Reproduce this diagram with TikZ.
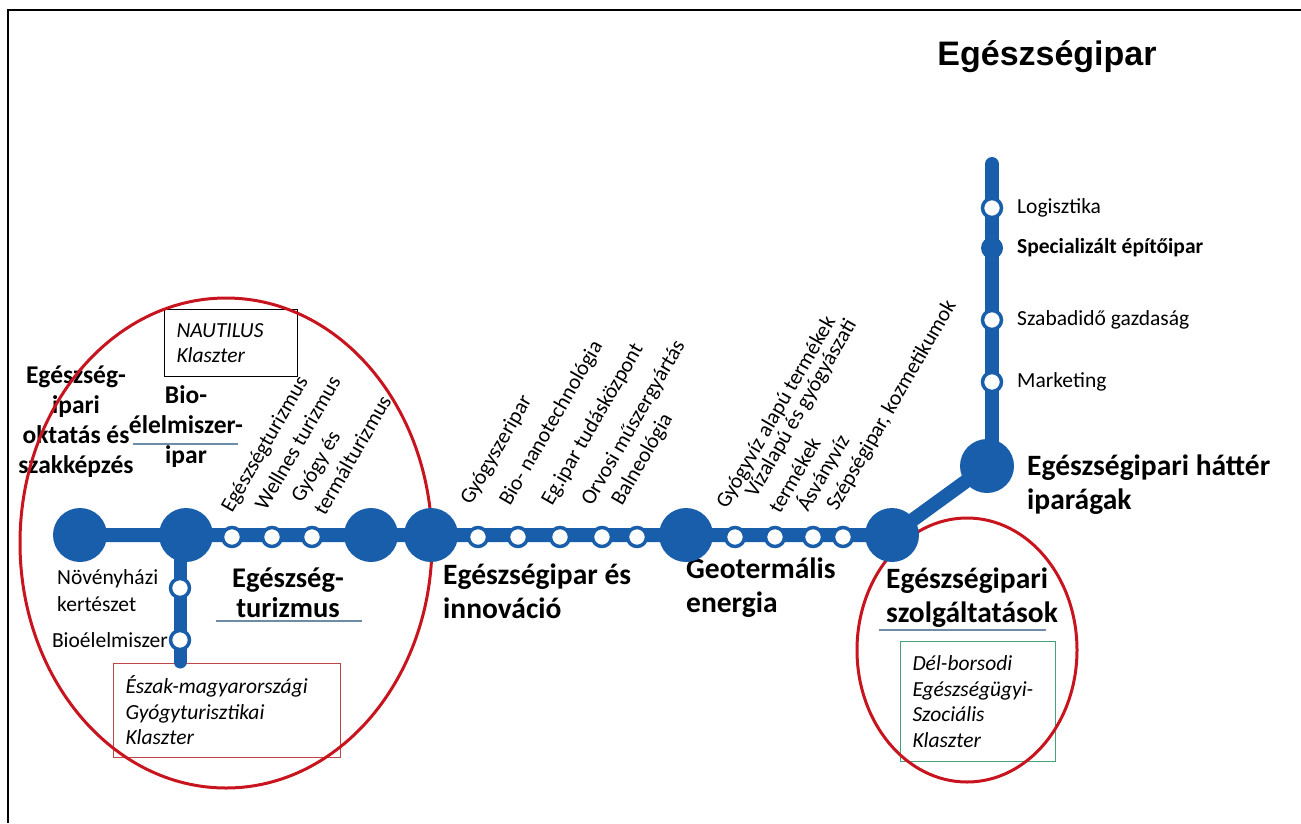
\documentclass[tikz,border=0pt]{standalone}
\usepackage{fontspec}
\setmainfont{Carlito}
\newfontfamily\titlefont{Liberation Sans}
\usetikzlibrary{shapes.geometric,backgrounds}
\pgfdeclarelayer{tracks}
\pgfdeclarelayer{stations}
\pgfsetlayers{background,main,tracks,stations}
\definecolor{metro}{RGB}{24,94,170}
\definecolor{ringred}{RGB}{200,20,30}
\definecolor{ulinec}{RGB}{110,140,170}
\definecolor{boxred}{RGB}{190,70,70}
\definecolor{boxgreen}{RGB}{70,160,120}
\begin{document}
\begin{tikzpicture}[x=1pt,y=-1pt,
 big/.style={circle,fill=metro,minimum size=54pt,inner sep=0pt},
 small/.style={circle,fill=white,draw=metro,line width=3.5pt,minimum size=19pt,inner sep=0pt},
 smallfill/.style={circle,fill=metro,minimum size=22pt,inner sep=0pt},
 lbl/.style={font=\fontsize{21.5}{26}\selectfont,inner sep=0pt},
 rlbl/.style={lbl,rotate=60,anchor=base west},
 head/.style={font=\bfseries\fontsize{29.5}{34}\selectfont,align=left,inner sep=0pt},
 lhead/.style={font=\bfseries\fontsize{25.5}{30}\selectfont,align=center,inner sep=0pt},
 cluster/.style={draw,anchor=north west,align=left,inner xsep=12pt,inner ysep=0pt,font=\itshape\fontsize{21.5}{25.5}\selectfont,line width=1pt},
 track/.style={draw=metro,line width=14pt},
 ring/.style={ellipse,draw=ringred,line width=3pt,inner sep=0pt},
 uline/.style={draw=ulinec,line width=1.2pt}
]
\useasboundingbox (0,0) rectangle (1301,823);

% title
\node[font=\titlefont\bfseries\fontsize{34}{38}\selectfont,inner sep=0pt] (title) at (1047,57) {Egészségipar};

% stations
\begin{pgfonlayer}{stations}
\node[big] (b1) at (80,535) {};
\node[big] (b2) at (186,535) {};
\node[big] (b3) at (371,535) {};
\node[big] (b4) at (431,535) {};
\node[big] (b5) at (686,535) {};
\node[big] (b6) at (892,535) {};
\node[big] (b7) at (987,466) {};

\node[small] (s1) at (232,537) {};
\node[small] (s2) at (272,537) {};
\node[small] (s3) at (312,537) {};
\node[small] (s4) at (478,537) {};
\node[small] (s5) at (518,537) {};
\node[small] (s6) at (560,537) {};
\node[small] (s7) at (602,537) {};
\node[small] (s8) at (637,537) {};
\node[small] (s9) at (735,537) {};
\node[small] (s10) at (775,537) {};
\node[small] (s11) at (813,537) {};
\node[small] (s12) at (843,537) {};

\node[small] (v1) at (180,588) {};
\node[small] (v2) at (180,640) {};

\node[small] (t1) at (992,208) {};
\node[smallfill] (t2) at (992,248) {};
\node[small] (t3) at (992,320) {};
\node[small] (t4) at (992,382) {};
\end{pgfonlayer}
\coordinate (vtop) at (180,540);
\coordinate (vend) at (180,662);
\coordinate (tjoin) at (992,466);
\coordinate (ttop) at (992,164);

\begin{pgfonlayer}{background}
\fill[white] (0,0) rectangle (1301,823);
\draw[line width=2.2pt] (8,823) -- (8,10) -- (1301,10);
\end{pgfonlayer}

\begin{pgfonlayer}{tracks}
\draw[track] (b1.center) -- (b2.center) -- (b3.center) -- (b4.center) -- (b5.center) -- (b6.center) -- (b7.center);
\draw[track,line cap=round] (tjoin) -- (ttop);
\draw[track,line width=13pt,line cap=round] (vtop) -- (vend);
\end{pgfonlayer}

% rotated labels
\node[rlbl] (r1) at (232,514) {Egészségturizmus};
\node[rlbl] (r2) at (266,512) {Wellnes turizmus};
\node[rlbl] (r3a) at (302,504) {Gyógy és};
\node[rlbl] (r3b) at (325,517) {termálturizmus};
\node[rlbl] (r4) at (471,506) {Gyógyszeripar};
\node[rlbl] (r5) at (510,507) {Bio- nanotechnológia};
\node[rlbl] (r6) at (552,507) {Eg.ipar tudásközpont};
\node[rlbl] (r7) at (592,507) {Orvosi műszergyártás};
\node[rlbl] (r8) at (622,507) {Balneológia};
\node[rlbl] (r9) at (727,510) {Gyógyvíz alapú termékek};
\node[rlbl] (r10a) at (756,499) {Vízalapú és gyógyászati};
\node[rlbl] (r10b) at (780,515) {termékek};
\node[rlbl] (r11) at (808,513) {Ásványvíz};
\node[rlbl] (r12) at (837,512) {Szépségipar, kozmetikumok};

% right side labels
\node[lbl,anchor=west] (l1) at (1017,208) {Logisztika};
\node[lbl,anchor=west,font=\bfseries\fontsize{21.5}{26}\selectfont] (l2) at (1017,248) {Specializált építőipar};
\node[lbl,anchor=west] (l3) at (1017,320) {Szabadidő gazdaság};
\node[lbl,anchor=west] (l4) at (1017,382) {Marketing};

% branch labels
\node[lbl,anchor=west,align=left,font=\fontsize{21.5}{27}\selectfont] (n1) at (57,591) {Növényházi\\kertészet};
\node[lbl,anchor=east] (n2) at (168,640) {Bioélelmiszer};

% headings
\node[lhead] (h1) at (76,422) {Egészség-\\ipari\\oktatás és\\szakképzés};
\node[lhead] (h2) at (186,427) {Bio-\\élelmiszer-\\ipar};
\node[head,align=center,font=\bfseries\fontsize{28.5}{30}\selectfont] (h3) at (288,593) {Egészség-\\turizmus};
\node[head,anchor=west] (h4) at (443,591) {Egészségipar és\\innováció};
\node[head,anchor=west] (h5) at (686,588) {Geotermális\\energia};
\node[head,anchor=west] (h6) at (886,598) {Egészségipari\\szolgáltatások};
\node[head,anchor=west] (h7) at (1027,485) {Egészségipari háttér\\iparágak};

% underlines
\draw[uline] (133,444) -- (238,444);
\draw[uline] (216,621) -- (362,621);
\draw[uline] (879,630) -- (1046,630);

% cluster boxes
\node[cluster,text width=109pt,minimum height=67pt] (c1) at (164,309) {NAUTILUS\\Klaszter};
\node[cluster,draw=boxred,text width=203pt,minimum height=94pt] (c2) at (113,663) {Észak-magyarországi\\Gyógyturisztikai\\Klaszter};
\node[cluster,draw=boxgreen,text width=131pt,minimum height=120pt] (c3) at (900,641) {Dél-borsodi\\Egészségügyi-\\Szociális\\Klaszter};

% rings
\node[ring,minimum width=412pt,minimum height=490pt] (ring1) at (226,543) {};
\node[ring,minimum width=220pt,minimum height=264pt] (ring2) at (967,650) {};
\end{tikzpicture}
\end{document}
